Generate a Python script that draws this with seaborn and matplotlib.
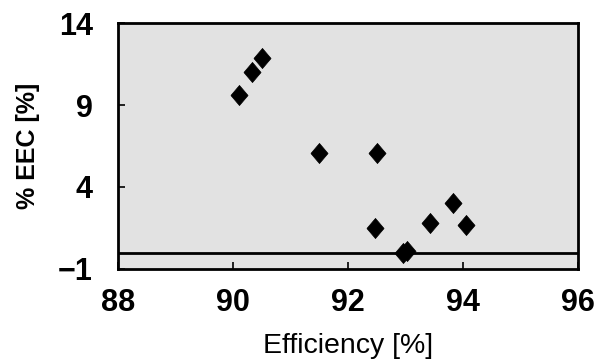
import numpy as np
import pandas as pd
import matplotlib
matplotlib.use("Agg")
import matplotlib.pyplot as plt
import seaborn as sns

efficiency = [90.1, 90.33, 90.5, 91.5, 92.5, 92.47, 92.95, 93.02, 93.43, 93.83, 94.05]
eec = [9.6, 11.0, 11.9, 6.1, 6.1, 1.5, 0.0, 0.1, 1.8, 3.0, 1.7]
x_ticks = [88, 90, 92, 94, 96]
y_ticks = [-1, 4, 9, 14]

df = pd.DataFrame({"eff": efficiency, "eec": eec})

sns.set_style("ticks")
plt.rcParams["font.family"] = ["Liberation Sans", "DejaVu Sans"]
plt.rcParams["text.color"] = "black"
plt.rcParams["axes.labelcolor"] = "black"
plt.rcParams["xtick.color"] = "black"
plt.rcParams["ytick.color"] = "black"

# slightly tall diamond, like the scanned markers
tall_diamond = [(-0.85, 0), (0, 1), (0.85, 0), (0, -1), (-0.85, 0)]

fig = plt.figure(figsize=(5.98, 3.61), dpi=100)
ax = fig.add_axes([0.197, 0.255, 0.77, 0.681])
ax.set_facecolor("#e2e2e2")

sns.scatterplot(data=df, x="eff", y="eec", marker=tall_diamond, s=210,
                color="black", edgecolor="black", linewidth=0.5, ax=ax, zorder=3)
ax.axhline(0, color="black", lw=2, zorder=2)

ax.set_xlim(88, 96)
ax.set_ylim(-1, 14)
ax.set_xticks(x_ticks)
ax.set_yticks(y_ticks)
ax.set_yticklabels(["\u22121", "4", "9", "14"])
ax.tick_params(direction="in", length=5, width=1.2, labelsize=22)
ax.tick_params(axis="y", pad=18)
ax.tick_params(axis="x", pad=14)
for lab in ax.get_xticklabels() + ax.get_yticklabels():
    lab.set_fontweight("bold")
for sp in ax.spines.values():
    sp.set_linewidth(2)
    sp.set_color("black")

ax.set_xlabel("Efficiency [%]", fontsize=20.5)
ax.set_ylabel("% EEC [%]", fontsize=18, fontweight="bold")
ax.xaxis.set_label_coords(0.5, -0.26)
ax.yaxis.set_label_coords(-0.17, 0.5)

fig.savefig("out.png", dpi=100)
